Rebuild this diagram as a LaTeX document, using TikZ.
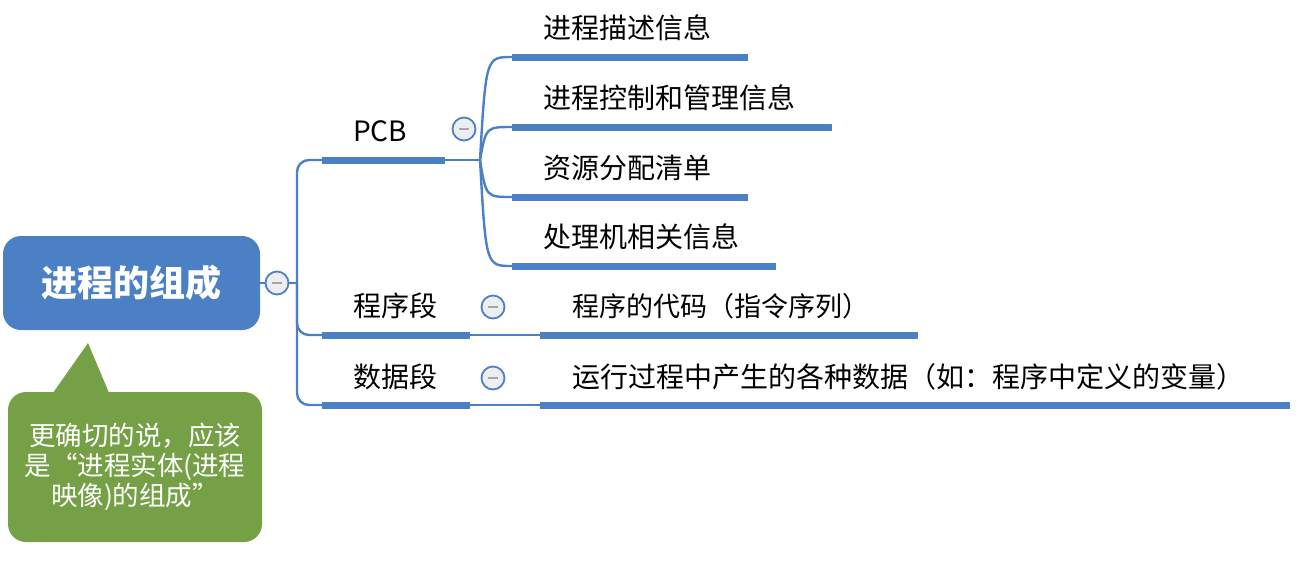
\documentclass[tikz,border=0pt]{standalone}
\usepackage{fontspec}
\setmainfont{Noto Sans CJK SC}
\usetikzlibrary{shapes,arrows,calc}
\definecolor{mapblue}{RGB}{76,128,196}
\definecolor{notegreen}{RGB}{117,160,70}
\definecolor{knobfill}{RGB}{236,238,242}

\begin{document}
\begin{tikzpicture}[x=1pt, y=-1pt,
    bar/.style={line width=7pt, mapblue},
    wire/.style={line width=2.4pt, mapblue},
    topic/.style={anchor=west, inner sep=0pt, font=\fontsize{28}{30}\selectfont},
    knob/.style={circle, draw=mapblue, line width=1.8pt, fill=knobfill, minimum size=23pt, inner sep=0pt,
      path picture={\draw [gray!70, line width=1.8pt] ([xshift=-5pt]path picture bounding box.center) -- ([xshift=5pt]path picture bounding box.center);}}]
        \useasboundingbox (0,0) rectangle (1306,566);
        % bar ends
        \coordinate (pcbL) at (322,160);  \coordinate (pcbR) at (445,160);
        \coordinate (progL) at (322,335); \coordinate (progR) at (470,335);
        \coordinate (dataL) at (322,405); \coordinate (dataR) at (470,405);
        \coordinate (codeL) at (540,335); \coordinate (codeR) at (918,335);
        \coordinate (varsL) at (540,405); \coordinate (varsR) at (1290,405);
        \coordinate (descL) at (512,57);  \coordinate (descR) at (748,57);
        \coordinate (ctrlL) at (512,127); \coordinate (ctrlR) at (832,127);
        \coordinate (resL) at (512,197);  \coordinate (resR) at (748,197);
        \coordinate (cpuL) at (512,266);  \coordinate (cpuR) at (776,266);
        \coordinate (hub) at (480,160);
        \coordinate (trunkTop) at (297,160);
        \coordinate (trunkMid) at (297,283);
        \coordinate (trunkBot) at (297,405);

        \node (root) [rectangle, rounded corners=18pt, fill=mapblue, minimum width=257pt, minimum height=94pt,
          text=white, font=\fontsize{36}{40}\selectfont\bfseries] at (131.5,283) {进程的组成};

        % trunk
        \draw [wire, rounded corners=12pt] (pcbL) -- (trunkTop) -- (trunkBot) -- (dataL);
        \draw [wire, rounded corners=12pt] (trunkMid) |- (progL);
        \draw [wire] (root.east) -- (trunkMid);
        \node (rootknob) [knob] at (277,283) {};

        % PCB
        \draw [bar] (pcbL) -- (pcbR);
        \draw [wire] (pcbR) -- (hub);
        \foreach \k in {desc,ctrl,res,cpu} {
          \draw [wire] (hub) .. controls ($(hub |- \k L)+(6,0)$) .. (\k L);
          \draw [bar] (\k L) -- (\k R);
        }
        \node (pcb) [topic] at (353,131) {PCB};
        \node (pcbknob) [knob] at (464,129) {};
        \node (desc) [topic] at (543,28) {进程描述信息};
        \node (ctrl) [topic] at (543,98) {进程控制和管理信息};
        \node (res) [topic] at (543,168) {资源分配清单};
        \node (cpu) [topic] at (543,237) {处理机相关信息};

        % 程序段, 数据段
        \draw [bar] (progL) -- (progR);
        \draw [wire] (progR) -- (codeL);
        \draw [bar] (codeL) -- (codeR);
        \draw [bar] (dataL) -- (dataR);
        \draw [wire] (dataR) -- (varsL);
        \draw [bar] (varsL) -- (varsR);
        \node (prog) [topic] at (353,306) {程序段};
        \node (progknob) [knob] at (493,307) {};
        \node (code) [topic, font=\fontsize{27}{30}\selectfont] at (572,306) {程序的代码（指令序列）};
        \node (data) [topic] at (353,377) {数据段};
        \node (dataknob) [knob] at (493,378) {};
        \node (vars) [topic] at (572,377) {运行过程中产生的各种数据（如：程序中定义的变量）};

        % callout
        \fill [notegreen] (48,400) -- (88,343) -- (112,400) -- cycle;
        \node (note) [rectangle, rounded corners=18pt, fill=notegreen, minimum width=254pt, minimum height=150pt,
          text=white, align=center, font=\fontsize{26.5}{30}\selectfont] at (135,467) {更确切的说，应该\\是“进程实体(进程\\映像)的组成”};
\end{tikzpicture}
\end{document}
